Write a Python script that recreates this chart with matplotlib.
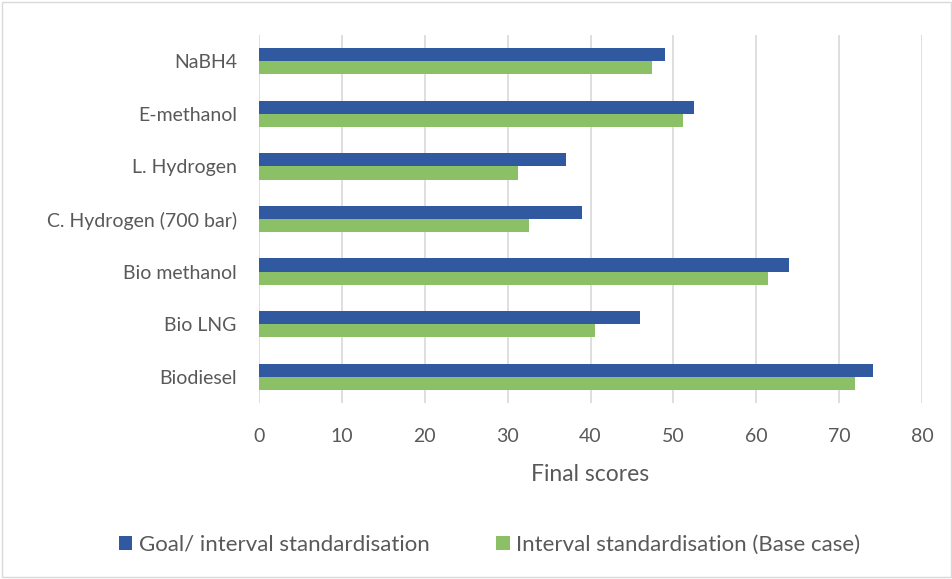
import matplotlib.pyplot as plt
import numpy as np
from matplotlib.patches import Rectangle

plt.rcParams['font.family'] = ['Lato', 'DejaVu Sans']

# categories bottom -> top (Excel order)
fuels = ['Biodiesel', 'Bio LNG', 'Bio methanol', 'C. Hydrogen (700 bar)',
         'L. Hydrogen', 'E-methanol', 'NaBH4']
goal_interval = [74.1, 46.0, 64.0, 39.0, 37.0, 52.5, 49.0]
interval_base = [71.9, 40.6, 61.4, 32.6, 31.2, 51.2, 47.4]
x_ticks = [0, 10, 20, 30, 40, 50, 60, 70, 80]

blue = '#3159A0'
green = '#8CC066'
txt = '#595959'

fig = plt.figure(figsize=(9.53, 5.79), dpi=100)
ax = fig.add_axes([0.2718, 0.304, 0.6957, 0.6356])

y = np.arange(len(fuels))
h = 0.25
ax.barh(y + h / 2, goal_interval, height=h, color=blue, zorder=3,
        label='Goal/ interval standardisation')
ax.barh(y - h / 2, interval_base, height=h, color=green, zorder=3,
        label='Interval standardisation (Base case)')

ax.set_xlim(0, 80)
ax.set_ylim(-0.5, len(fuels) - 0.5)
ax.set_xticks(x_ticks)
ax.set_yticks(y)
ax.set_yticklabels(fuels)
ax.tick_params(axis='both', length=0, labelsize=14, colors=txt)
ax.tick_params(axis='x', pad=18)
ax.tick_params(axis='y', pad=16)
ax.grid(axis='x', color='#D9D9D9', linewidth=1.2, zorder=0)
for s in ax.spines.values():
    s.set_visible(False)
ax.set_xlabel('Final scores', fontsize=16.5, color=txt, labelpad=14)

leg = fig.legend(loc='center', bbox_to_anchor=(0.514, 0.059), ncol=2,
                 frameon=False, fontsize=16, handlelength=0.6, handleheight=0.6,
                 handletextpad=0.3, columnspacing=3.0)
for t in leg.get_texts():
    t.set_color(txt)

fig.patches.append(Rectangle((0.002, 0.003), 0.996, 0.994, transform=fig.transFigure,
                             fill=False, edgecolor='#D9D9D9', linewidth=1))

fig.savefig('out.png', dpi=100)
